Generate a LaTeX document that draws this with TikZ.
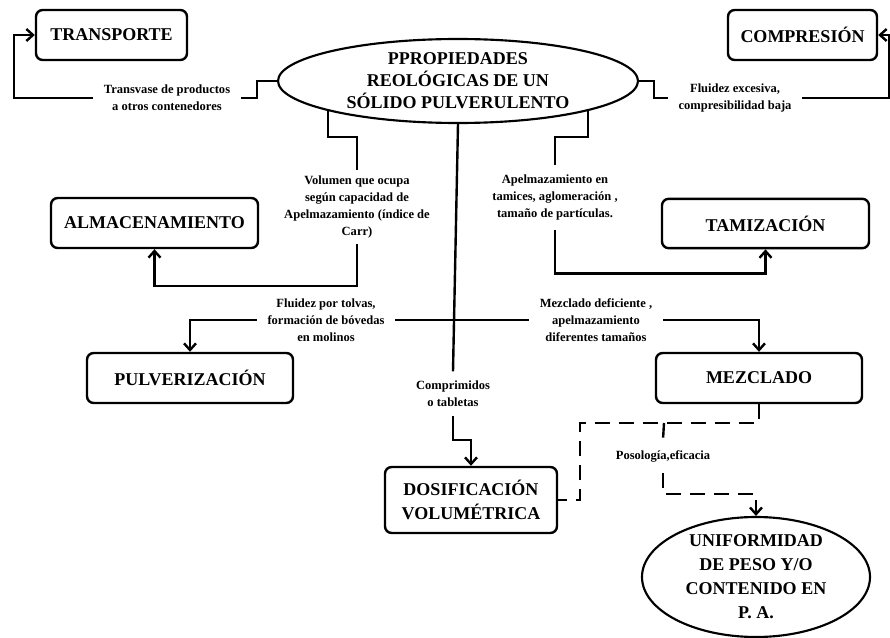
\documentclass[tikz,border=0pt]{standalone}
\usepackage{fontspec}
\setmainfont{Liberation Serif}
\usetikzlibrary{shapes.geometric,arrows.meta}
\tikzset{
  box/.style={draw, line width=1.8pt, rounded corners=5pt, align=center, inner sep=0pt,
    font=\fontsize{13.5}{17.5}\selectfont\bfseries},
  oval/.style={ellipse, draw, line width=1.6pt, align=center, inner xsep=0pt, inner ysep=-6pt},
  lbl/.style={align=center, inner xsep=8pt, inner ysep=3pt,
    font=\fontsize{9.4}{12.75}\selectfont\bfseries},
  conn/.style={line width=1.8pt},
  arr/.style={conn, -{Straight Barb[length=5pt,width=9pt]}},
  dsh/.style={conn, dash pattern=on 11pt off 7pt},
}
\begin{document}
\begin{tikzpicture}[x=0.75pt,y=-0.75pt]
\path[use as bounding box, fill=white] (0,0) rectangle (890,638);

% boxes
\node[box, minimum width=113.25pt, minimum height=37.5pt] (transp) at (111.5,35) {TRANSPORTE};
\node[box, minimum width=111.75pt, minimum height=37.5pt] (compr) at (802.5,35) {COMPRESIÓN};
\node[box, minimum width=155.25pt, minimum height=37.5pt] (alm) at (154.5,223) {ALMACENAMIENTO};
\node[box, minimum width=155.25pt, minimum height=37pt] (tam) at (765.5,223.5) {TAMIZACIÓN};
\node[box, minimum width=154.5pt, minimum height=37.5pt] (pulv) at (190,378) {PULVERIZACIÓN};
\node[box, minimum width=154.5pt, minimum height=37.5pt] (mez) at (759,378) {MEZCLADO};
\node[box, minimum width=129pt, minimum height=49.5pt] (dos) at (471,500) {DOSIFICACIÓN\\VOLUMÉTRICA};
\node[oval, minimum width=270pt, minimum height=63pt, font=\fontsize{13.5}{16.5}\selectfont\bfseries]
  (main) at (458,81) {PPROPIEDADES\\REOLÓGICAS DE UN\\SÓLIDO PULVERULENTO};
\node[oval, minimum width=171pt, minimum height=90pt, font=\fontsize{13.5}{18}\selectfont\bfseries]
  (unif) at (756,577) {UNIFORMIDAD\\DE PESO Y/O\\CONTENIDO EN\\P. A.};

% labels
\node[lbl] (tl) at (167,98) {Transvase de productos\\a otros contenedores};
\node[lbl] (tr) at (735,98) {Fluidez excesiva,\\compresibilidad baja};
\node[lbl, inner ysep=4.5pt] (tv) at (357,207) {Volumen que ocupa\\según capacidad de\\Apelmazamiento (índice de\\Carr)};
\node[lbl, inner ysep=7pt] (ta) at (555,197.5) {Apelmazamiento en\\tamices, aglomeración ,\\tamaño de partículas.};
\node[lbl] (tf) at (326,320) {Fluidez por tolvas,\\formación de bóvedas\\en molinos};
\node[lbl] (tm) at (596,320) {Mezclado deficiente ,\\apelmazamiento\\diferentes tamaños};
\node[lbl, inner ysep=6.75pt] (tc) at (453,393.5) {Comprimidos\\o tabletas};
\node[lbl, inner ysep=8pt] (tp) at (663,456.5) {Posología,eficacia};

% connectors
\draw[conn] (main.west) -- ++(-20,0) |- (tl.east);
\draw[arr] (tl.west) -| ([xshift=-15.75pt]transp.west) -- (transp.west);
\draw[conn] (main.east) -- ++(15,0) |- (tr.west);
\draw[arr] (tr.east) -| ([xshift=8.25pt]compr.east) -- (compr.east);

\draw[conn] (main.193) -- ++(0,26) -| (tv.north);
\draw[arr] (tv.south) |- ([yshift=-27.75pt]alm.south) -- (alm.south);
\draw[conn] (main.347) -- ++(0,26) -| (ta.north);
\draw[arr] (ta.south) |- ([yshift=-18pt]tam.south) -- (tam.south);

\draw[conn] (main.south) -- (tc.north);
\draw[conn] (tf.east) -- (tm.west);
\draw[arr] (tf.west) -| (pulv.north);
\draw[arr] (tm.east) -| (mez.north);
\draw[arr] (tc.south) |- ([yshift=19.5pt]dos.north) -- (dos.north);

\coordinate (dl) at (580,423);
\coordinate (dj) at (664,423);
\draw[dsh] (mez.south) |- (dl) |- (dos.east);
\draw[dsh] (dj) -- (tp.north);
\draw[dsh, -{Straight Barb[length=5pt,width=9pt]}] (tp.south) |- ([yshift=16.5pt]unif.north) -- (unif.north);
\end{tikzpicture}
\end{document}
